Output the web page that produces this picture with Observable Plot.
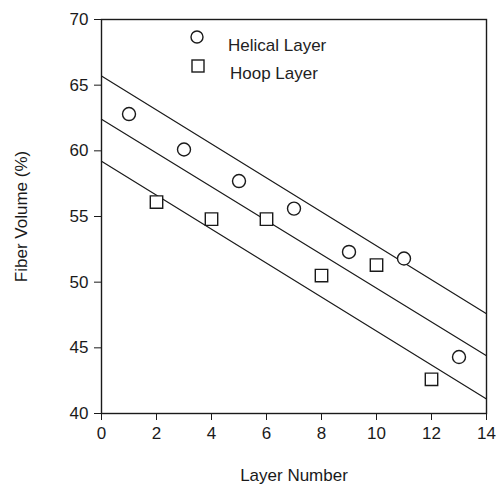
<!DOCTYPE html>
<html>
<head>
<meta charset="utf-8">
<script src="https://cdn.jsdelivr.net/npm/d3@7"></script>
<script src="https://cdn.jsdelivr.net/npm/@observablehq/plot@0.6"></script>
<style>
  html, body { margin: 0; padding: 0; background: #fff; }
  #wrap { position: relative; width: 496px; height: 491px; }
  .legsym { position: absolute; }
  .legtxt { position: absolute; font-family: "Liberation Sans", Arial, sans-serif; font-size: 17px; color: #222; line-height: 1; white-space: nowrap; }
</style>
</head>
<body>
<div id="wrap"></div>
<script>
// Data
const helicalLayer = [1, 3, 5, 7, 9, 11, 13];
const helicalVolume = [62.8, 60.1, 57.7, 55.6, 52.3, 51.8, 44.3];
const hoopLayer = [2, 4, 6, 8, 10, 12];
const hoopVolume = [56.1, 54.8, 54.8, 50.5, 51.3, 42.6];
// Fitted / bound lines: value at layer 0 and layer 14
const lineEnds = [0, 14];
const upperLine = [65.7, 47.6];
const middleLine = [62.4, 44.4];
const lowerLine = [59.2, 41.1];
const xTicks = [0, 2, 4, 6, 8, 10, 12, 14];
const yTicks = [40, 45, 50, 55, 60, 65, 70];
const legendLabels = ["Helical Layer", "Hoop Layer"];

const helical = helicalLayer.map((x, i) => ({x, y: helicalVolume[i]}));
const hoop = hoopLayer.map((x, i) => ({x, y: hoopVolume[i]}));
const lines = [["upper", upperLine], ["middle", middleLine], ["lower", lowerLine]]
  .flatMap(([name, v]) => lineEnds.map((x, i) => ({name, x, y: v[i]})));

const chart = Plot.plot({
  width: 496,
  height: 491,
  marginLeft: 101,
  marginRight: 10,
  marginTop: 19,
  marginBottom: 78,
  style: {fontFamily: "'Liberation Sans', Arial, sans-serif", fontSize: "17px", color: "#1a1a1a", background: "#fff"},
  x: {domain: [0, 14]},
  y: {domain: [40, 70]},
  marks: [
    Plot.frame({stroke: "#1a1a1a", strokeWidth: 1.4}),
    Plot.axisX({ticks: xTicks, tickSize: 7, tickPadding: 6, label: "Layer Number", labelAnchor: "center", labelArrow: "none", labelOffset: 67, fontSize: 17}),
    Plot.axisY({ticks: yTicks, tickSize: 7, tickPadding: 6, label: "Fiber Volume (%)", labelAnchor: "center", labelArrow: "none", labelOffset: 87, fontSize: 17}),
    Plot.line(lines, {x: "x", y: "y", z: "name", stroke: "#1a1a1a", strokeWidth: 1.2}),
    Plot.dot(helical, {x: "x", y: "y", symbol: "circle", r: 6.5, fill: "white", stroke: "#1a1a1a", strokeWidth: 1.4}),
    Plot.dot(hoop, {x: "x", y: "y", symbol: "square", r: 7, fill: "white", stroke: "#1a1a1a", strokeWidth: 1.4})
  ]
});
document.getElementById("wrap").appendChild(chart);

// Legend overlay (upper left inside the frame)
const wrap = document.getElementById("wrap");
const symbols = [
  '<svg width="16" height="16"><circle cx="8" cy="8" r="6" fill="white" stroke="#1a1a1a" stroke-width="1.4"/></svg>',
  '<svg width="16" height="16"><rect x="2" y="2" width="12" height="12" fill="white" stroke="#1a1a1a" stroke-width="1.4"/></svg>'
];
const symPos = [[189, 29], [190, 58]];
const txtPos = [[228, 37], [230, 65]];
legendLabels.forEach((lab, i) => {
  const s = document.createElement("div");
  s.className = "legsym";
  s.style.left = symPos[i][0] + "px";
  s.style.top = symPos[i][1] + "px";
  s.innerHTML = symbols[i];
  wrap.appendChild(s);
  const t = document.createElement("div");
  t.className = "legtxt";
  t.style.left = txtPos[i][0] + "px";
  t.style.top = txtPos[i][1] + "px";
  t.textContent = lab;
  wrap.appendChild(t);
});
</script>
</body>
</html>
